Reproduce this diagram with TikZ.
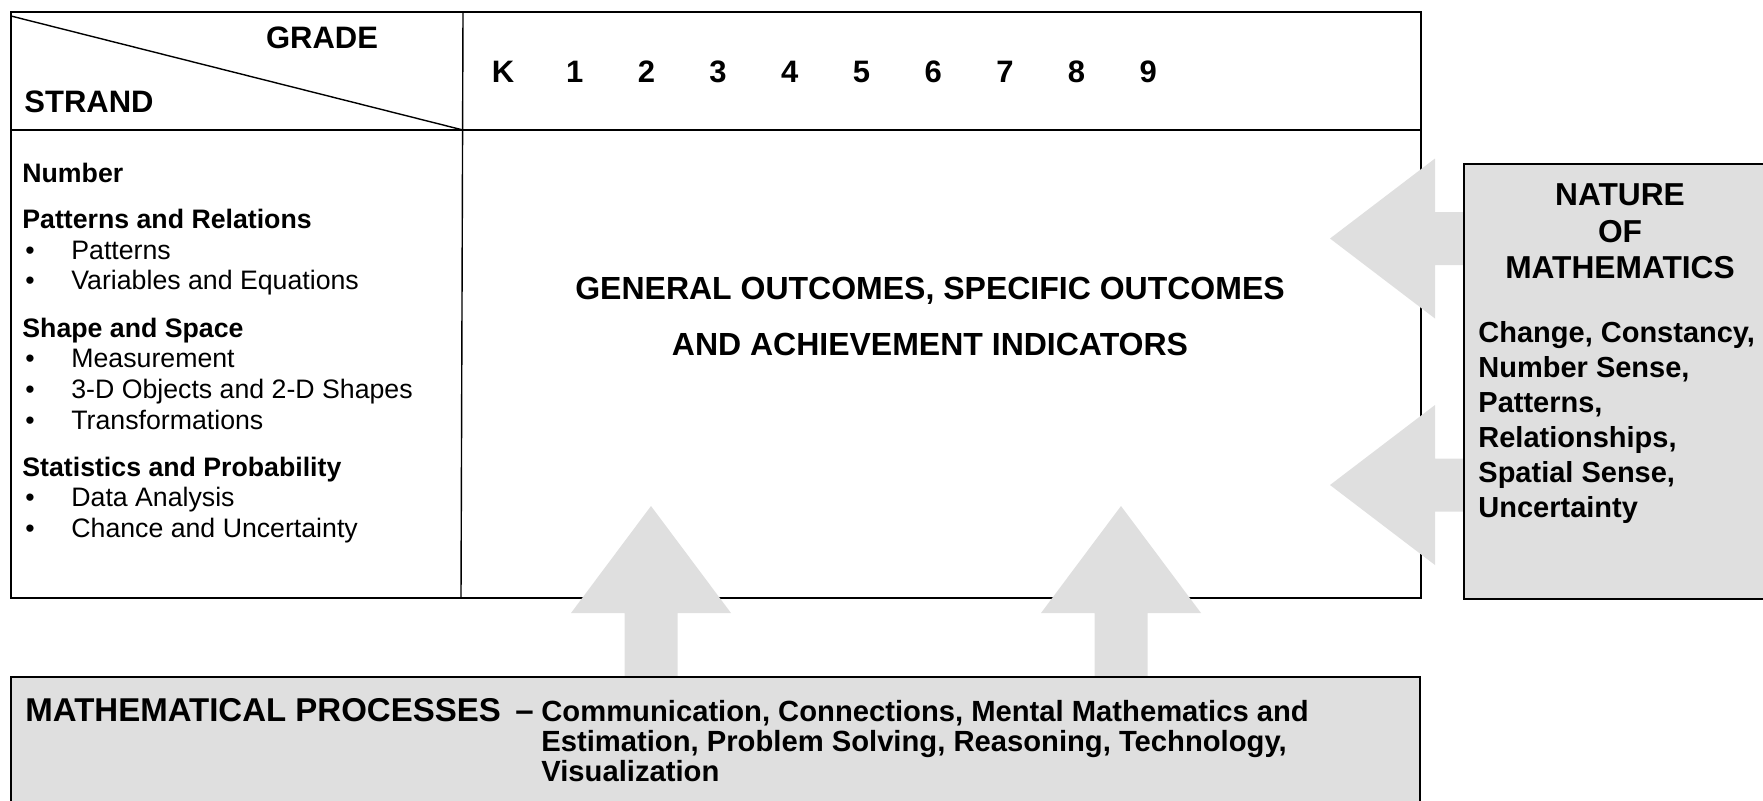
\documentclass[tikz,border=0pt]{standalone}
\usepackage{fontspec}
\setmainfont{Liberation Sans}
\definecolor{panelgray}{RGB}{223,223,223}
\tikzset{
  px/.style={x=0.5pt,y=-0.5pt},
  mainframe/.style={line width=0.7pt},
  panel/.style={fill=panelgray,draw=black,line width=1.1pt},
  blockarrow/.style={fill=panelgray},
  hdrtext/.style={anchor=base,font=\fontsize{15.5}{18}\selectfont\bfseries},
  strandhead/.style={anchor=base west,font=\fontsize{13.35}{16}\selectfont\bfseries},
  stranditem/.style={anchor=base west,font=\fontsize{13.35}{16}\selectfont},
  outcome/.style={anchor=base,font=\fontsize{16}{19}\selectfont\bfseries},
  naturetitle/.style={anchor=base,font=\fontsize{15.85}{19}\selectfont\bfseries},
  natureitem/.style={anchor=base west,font=\fontsize{14.5}{17}\selectfont\bfseries},
  proctitle/.style={anchor=base west,font=\fontsize{16.5}{19}\selectfont\bfseries},
  procitem/.style={anchor=base west,font=\fontsize{14.6}{17}\selectfont\bfseries}
}
\begin{document}
\begin{tikzpicture}[px,inner sep=0pt]
  \useasboundingbox (0,0) rectangle (1763,800);
  \clip (0,0) rectangle (1763,800);

  % strand / grade table
  \draw[mainframe] (11,12) rectangle (1421,598);
  \draw[mainframe] (11,130) -- (1421,130);
  \draw[mainframe] (463,12) -- (461,598);
  \draw[mainframe] (11,16) -- (463,130);

  \node[hdrtext] (grade) at (322,48) {GRADE};
  \node[hdrtext,anchor=base west] (strand) at (24,112) {STRAND};
  \foreach \g [count=\n from 0] in {K,1,2,3,4,5,6,7,8,9}
    \node[hdrtext] (grade\n) at ({503+71.7*\n},82) {\g};

  \node[strandhead] (number)  at (22,182) {Number};
  \node[strandhead] (patrel)  at (22,228) {Patterns and Relations};
  \node[strandhead] (shape)   at (22,337) {Shape and Space};
  \node[strandhead] (stats)   at (22,476) {Statistics and Probability};
  \foreach \y/\t [count=\k] in {259/Patterns,289/Variables and Equations,
      367/Measurement,398/3-D Objects and 2-D Shapes,429/Transformations,
      506/Data Analysis,537/Chance and Uncertainty} {
    \node[stranditem,anchor=base] (dot\k) at (30,\y) {\textbullet};
    \node[stranditem] (item\k) at (71,\y) {\t};
  }

  \node[outcome] (outcomes1) at (930,299) {GENERAL OUTCOMES, SPECIFIC OUTCOMES};
  \node[outcome] (outcomes2) at (930,355) {AND ACHIEVEMENT INDICATORS};

  % block arrows
  \foreach \cx in {651,1121}
    \fill[blockarrow] (\cx,506) -- ({\cx+80},613) -- ({\cx+26.5},613)
      -- ({\cx+26.5},680) -- ({\cx-26.5},680) -- ({\cx-26.5},613)
      -- ({\cx-80},613) -- cycle;
  \foreach \cy in {238.5,485}
    \fill[blockarrow] (1330,\cy) -- (1435,{\cy-80}) -- (1435,{\cy-26.5})
      -- (1466,{\cy-26.5}) -- (1466,{\cy+26.5}) -- (1435,{\cy+26.5})
      -- (1435,{\cy+80}) -- cycle;

  % nature of mathematics
  \draw[panel] (1464,164) rectangle (1780,599);
  \node[naturetitle] (nature) at (1620,205) {NATURE};
  \node[naturetitle] (of)     at (1620,242) {OF};
  \node[naturetitle] (maths)  at (1620,278) {MATHEMATICS};
  \foreach \t [count=\k from 0] in {{Change, Constancy,},{Number Sense,},
      {Patterns,},{Relationships,},{Spatial Sense,},{Uncertainty}}
    \node[natureitem] (nat\k) at (1478,{342+35*\k}) {\t};

  % mathematical processes
  \draw[panel] (11,677) rectangle (1420,820);
  \node[proctitle] (processes) at (25,721) {MATHEMATICAL PROCESSES \,–};
  \foreach \t [count=\k from 0] in {{Communication, Connections, Mental Mathematics and},
      {Estimation, Problem Solving, Reasoning, Technology,},{Visualization}}
    \node[procitem] (proc\k) at (541,{721+30*\k}) {\t};
\end{tikzpicture}
\end{document}
